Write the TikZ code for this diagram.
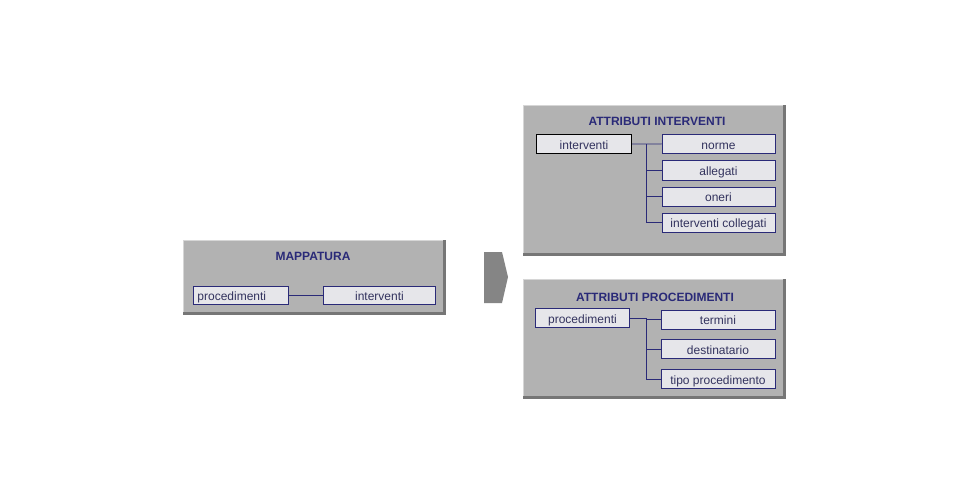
\documentclass[tikz,border=0pt]{standalone}
\usepackage{fontspec}
\setmainfont{Liberation Sans}
\definecolor{panelfill}{HTML}{B2B2B2}
\definecolor{paneldark}{HTML}{767676}
\definecolor{panellight}{HTML}{D6D6D6}
\definecolor{boxfill}{HTML}{E6E6EA}
\definecolor{navy}{HTML}{2A2A78}
\definecolor{boxtext}{HTML}{33335E}
\definecolor{chev}{HTML}{858585}
\begin{document}
\begin{tikzpicture}[x=1pt,y=-1pt,
  panel/.style={fill=none, draw=none, anchor=north west, inner sep=0pt},
  ttl/.style={font=\bfseries\fontsize{12}{14}\selectfont, text=navy, inner sep=0pt},
  itembox/.style={draw=navy, line width=0.9pt, fill=boxfill, anchor=north west, inner sep=0pt,
    font=\fontsize{12}{14}\selectfont, text=boxtext, text height=11pt, text depth=0pt},
  selbox/.style={itembox, draw=black, line width=1.1pt},
  conn/.style={draw=navy, line width=0.9pt}]
\useasboundingbox (0,0) rectangle (957,497);
\fill[white] (0,0) rectangle (957,497);

% panels with bevel
\foreach \xa/\ya/\xb/\yb in {183/240/446/315, 523/105/786/256, 523/279/786/399}{
  \fill[paneldark] (\xa,\ya) rectangle (\xb,\yb);
  \fill[panelfill] (\xa,\ya) rectangle (\xb-3,\yb-3);
  \draw[panellight, line width=1pt] (\xa+0.5,\yb-3) -- (\xa+0.5,\ya+0.5) -- (\xb-3,\ya+0.5);
}
\node[panel, minimum width=263pt, minimum height=75pt] (pm) at (183,240) {};
\node[panel, minimum width=263pt, minimum height=151pt] (pi) at (523,105) {};
\node[panel, minimum width=263pt, minimum height=120pt] (pp) at (523,279) {};

% MAPPATURA
\node[ttl] (tm) at (313,256) {MAPPATURA};
\node[itembox, minimum height=18pt, text width=87pt, inner xsep=4pt, align=left] (mp) at (193,285.5) {procedimenti};
\node[itembox, minimum width=112pt, minimum height=18pt] (mi) at (323,285.5) {interventi};
\draw[conn] (mp.east) -- (mi.west);

% chevron
\fill[chev] (484,252) -- (502,252) -- (508,277) -- (502,303) -- (484,303) -- cycle;

% ATTRIBUTI INTERVENTI
\node[ttl] (ti) at (657,121) {ATTRIBUTI INTERVENTI};
\node[selbox, minimum width=95pt, minimum height=19pt] (ai) at (536,134) {interventi};
\node[itembox, minimum width=113pt, minimum height=19pt] (an) at (661.5,134) {norme};
\node[itembox, minimum width=113pt, minimum height=19pt] (aa) at (661.5,160.5) {allegati};
\node[itembox, minimum width=113pt, minimum height=19pt] (ao) at (661.5,186.5) {oneri};
\node[itembox, minimum width=113pt, minimum height=19pt] (ac) at (661.5,212.5) {interventi collegati};
\coordinate (tx1) at (646.5,0);
\draw[conn] (ai.east) -- (an.west);
\draw[conn] (tx1 |- ai.east) |- (ac.west);
\draw[conn] (tx1 |- aa.west) -- (aa.west);
\draw[conn] (tx1 |- ao.west) -- (ao.west);

% ATTRIBUTI PROCEDIMENTI
\node[ttl] (tp) at (655,297) {ATTRIBUTI PROCEDIMENTI};
\node[itembox, minimum width=94pt, minimum height=19pt] (pr) at (535,308) {procedimenti};
\node[itembox, minimum width=114pt, minimum height=19pt] (pt) at (660.5,309.5) {termini};
\node[itembox, minimum width=114pt, minimum height=19pt] (pd) at (660.5,339) {destinatario};
\node[itembox, minimum width=114pt, minimum height=19pt] (pg) at (660.5,369) {tipo procedimento};
\coordinate (tx2) at (646,0);
\draw[conn] (pr.east) -- (tx2 |- pr.east) -- (tx2 |- pt.west) -- (pt.west);
\draw[conn] (tx2 |- pr.east) |- (pg.west);
\draw[conn] (tx2 |- pd.west) -- (pd.west);
\end{tikzpicture}
\end{document}
